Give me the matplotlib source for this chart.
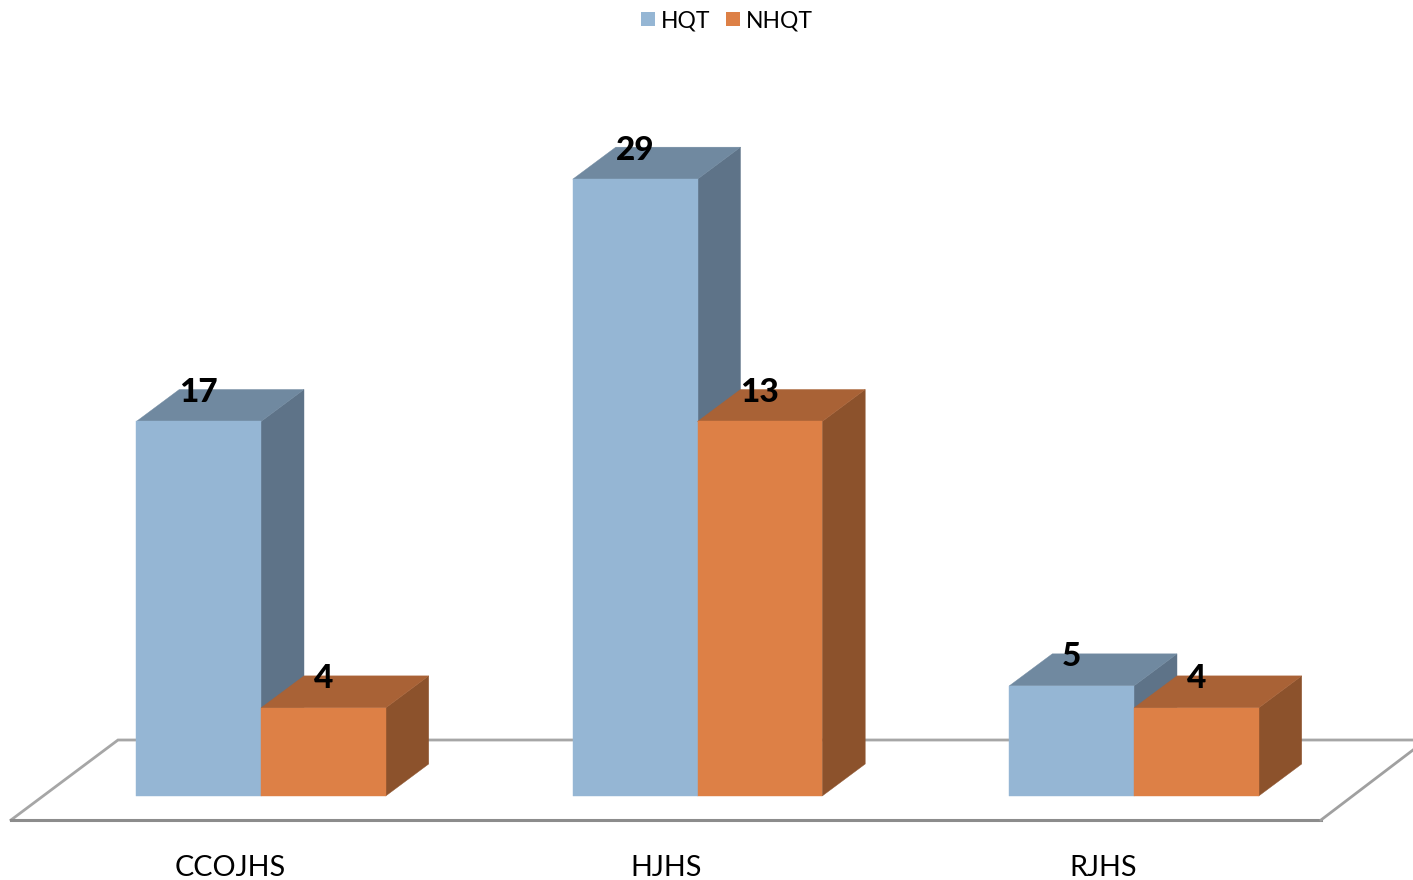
import numpy as np
import matplotlib
matplotlib.use("Agg")
import matplotlib.pyplot as plt
from matplotlib.patches import Polygon, Patch

# Data
categories = ["CCOJHS", "HJHS", "RJHS"]
series_names = ["HQT", "NHQT"]
hqt_labels = [17, 29, 5]
nhqt_labels = [4, 13, 4]
# Heights as drawn in the picture (the picture's bars are not all to scale with their labels)
hqt_drawn = [17, 28, 5]
nhqt_drawn = [4, 17, 4]

# Colours: front, top, side
hqt_colors = ("#95B6D4", "#7089A0", "#5E7388")
nhqt_colors = ("#DD8046", "#A96236", "#8C522C")

W, H = 1413, 880
BASE_PX = 796
PX_PER_UNIT_Y = 22.03
PX_PER_UNIT_X = 436.5
FIRST_X_PX = 261

def dx(px):
    return px / PX_PER_UNIT_X

def dy(px):
    return px / PX_PER_UNIT_Y

plt.rcParams["font.family"] = ["Lato", "DejaVu Sans"]
fig = plt.figure(figsize=(W / 100, H / 100), dpi=100)
ax = fig.add_axes([0, (H - BASE_PX) / H, 1, BASE_PX / H])
ax.set_xlim(-dx(FIRST_X_PX), dx(W - FIRST_X_PX))
ax.set_ylim(0, dy(BASE_PX))
for s in ax.spines.values():
    s.set_visible(False)
ax.yaxis.set_visible(False)

x = np.arange(len(categories))
bar_w = dx(124.7)
depth_x, depth_y = dx(43), dy(32)

# Floor
x0 = ax.get_xlim()[0]
x1 = ax.get_xlim()[1]
back_y, front_y = dy(796 - 740), dy(796 - 820)
fl, bl, fr, br = x0 + dx(11), x0 + dx(118), x0 + dx(1321), x1
ax.plot([fl, bl, br], [front_y, back_y, back_y], color="#A6A6A6", lw=2, clip_on=False, zorder=1,
        solid_joinstyle="miter")
ax.plot([fl, fr], [front_y, front_y], color="#8C8C8C", lw=2.2, clip_on=False, zorder=1)
ax.plot([fr, br], [front_y, dy(796 - 750)], color="#A0A0A0", lw=2, clip_on=False, zorder=1)


def draw_bar(left, h, colors, z):
    right = left + bar_w
    front = [(left, 0), (right, 0), (right, h), (left, h)]
    top = [(left, h), (right, h), (right + depth_x, h + depth_y), (left + depth_x, h + depth_y)]
    side = [(right, 0), (right + depth_x, depth_y), (right + depth_x, h + depth_y), (right, h)]
    for pts, c in ((side, colors[2]), (top, colors[1]), (front, colors[0])):
        ax.add_patch(Polygon(pts, closed=True, facecolor=c, edgecolor=c, lw=0.3, zorder=z, clip_on=False))


label_dy = dy(29)
for i in x:
    draw_bar(i - bar_w, hqt_drawn[i], hqt_colors, 2 + i * 0.1)
    draw_bar(i, nhqt_drawn[i], nhqt_colors, 2.05 + i * 0.1)
for i in x:
    ax.text(i - bar_w / 2, hqt_drawn[i] + label_dy, str(hqt_labels[i]), ha="center", va="center",
            fontsize=24, fontweight=900, color="black", zorder=5)
    ax.text(i + bar_w / 2, nhqt_drawn[i] + label_dy, str(nhqt_labels[i]), ha="center", va="center",
            fontsize=24, fontweight=900, color="black", zorder=5)

# Category labels
ax.set_xticks(x - dx(31), categories)
ax.tick_params(axis="x", length=0, pad=42.5, labelsize=20.7, labelcolor="black")

# Legend
handles = [Patch(facecolor=hqt_colors[0], label=series_names[0]),
           Patch(facecolor=nhqt_colors[0], label=series_names[1])]
fig.legend(handles=handles, loc="upper center", bbox_to_anchor=(0.5145, 1.012), ncol=2, frameon=False,
           fontsize=16.5, handlelength=0.6, handleheight=0.6, handletextpad=0.25, columnspacing=0.7)

fig.savefig("out.png", dpi=100)
